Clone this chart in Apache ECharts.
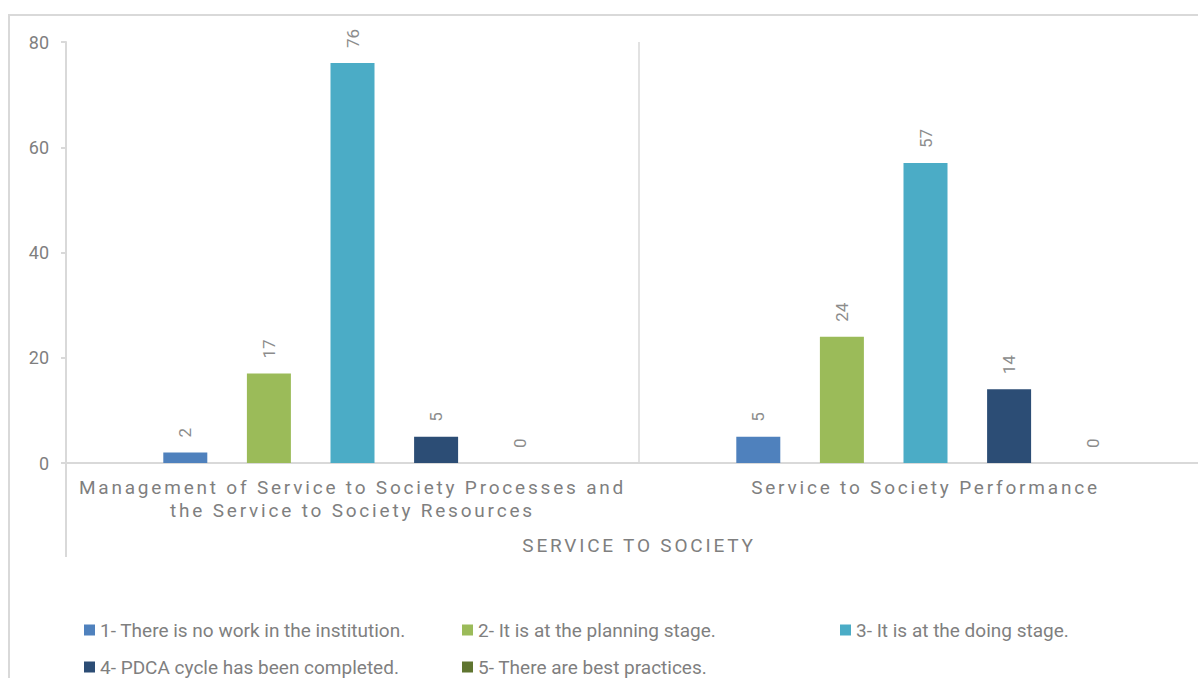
<!DOCTYPE html>
<html>
<head>
<meta charset="utf-8">
<script src="https://cdn.jsdelivr.net/npm/echarts@6/dist/echarts.min.js"></script>
<style>
  html, body { margin: 0; padding: 0; background: #fff; overflow: hidden; width: 1198px; height: 678px; }
  #frame { position: absolute; left: 8px; top: 14px; width: 1200px; height: 680px;
           border-top: 2px solid #d9d9d9; border-left: 2px solid #d9d9d9; }
  /* the drawing surface is wider than the page: the plot runs past its right edge */
  #chart { position: absolute; left: 0; top: 0; width: 1240px; height: 678px; }
</style>
</head>
<body>
<div id="frame"></div>
<div id="chart"></div>
<script>
// Categories along the x axis and the group they belong to
const categories = [
  'Management of Service to Society Processes and\nthe Service to Society Resources',
  'Service to Society Performance'
];
const groupLabels = ['SERVICE TO SOCIETY'];

// Legend entries, one per maturity level
const seriesNames = [
  '1- There is no work in the institution.',
  '2- It is at the planning stage.',
  '3- It is at the doing stage.',
  '4- PDCA cycle has been completed.',
  '5- There are best practices.'
];

// Counts per category for each level
const noWork       = [2, 5];
const planning     = [17, 24];
const doing        = [76, 57];
const pdcaDone     = [5, 14];
const bestPractice = [0, 0];

// Value axis ticks
const yTicks = [0, 20, 40, 60, 80];

const colors = ['#4F81BD', '#9BBB59', '#4BACC6', '#2C4D75', '#5F7530'];
const seriesValues = [noWork, planning, doing, pdcaDone, bestPractice];

const FONT = 'Roboto, "DejaVu Sans", sans-serif';
const GRAY = '#7f7f7f';
const LINE = '#d9d9d9';

const chart = echarts.init(document.getElementById('chart'), null, { renderer: 'svg' });

const series = seriesNames.map((name, i) => ({
  name: name,
  type: 'bar',
  data: seriesValues[i],
  barWidth: 44,
  barGap: '90%',
  itemStyle: { color: colors[i] },
  label: {
    show: true,
    position: 'top',
    distance: 15,
    rotate: 90,
    align: 'left',
    verticalAlign: 'middle',
    color: '#8c8c8c',
    fontFamily: FONT,
    fontSize: 17
  },
  emphasis: { disabled: true }
}));

const legendText = { color: GRAY, fontFamily: FONT, fontSize: 19, lineHeight: 22, width: 320 };
const legendBase = {
  left: 84, padding: 0,
  itemWidth: 11, itemHeight: 11, itemGap: 42,
  icon: 'rect',
  textStyle: legendText,
  selectedMode: false
};

chart.setOption({
  animation: false,
  textStyle: { fontFamily: FONT },
  grid: { left: 66, right: 28, top: 42, bottom: 215, containLabel: false, outerBoundsMode: 'none' },
  legend: [
    Object.assign({ data: seriesNames.slice(0, 3), top: 619 }, legendBase),
    Object.assign({ data: seriesNames.slice(3), top: 656 }, legendBase)
  ],
  xAxis: [
    {
      type: 'category',
      data: categories,
      position: 'bottom',
      offset: 0,
      axisLine: { lineStyle: { color: LINE, width: 2 } },
      axisTick: { show: false },
      splitLine: { show: true, lineStyle: { color: LINE, width: 1.5 } },
      axisLabel: {
        color: GRAY, fontFamily: FONT, fontSize: 19, lineHeight: 23,
        margin: 13, interval: 0
      }
    },
    {
      type: 'category',
      data: groupLabels,
      position: 'bottom',
      offset: 0,
      axisLine: { show: false },
      axisTick: { show: true, length: 94, lineStyle: { color: LINE, width: 2 } },
      axisLabel: {
        color: GRAY, fontFamily: FONT, fontSize: 19, margin: 73, interval: 0
      }
    }
  ],
  yAxis: {
    type: 'value',
    min: yTicks[0],
    max: yTicks[yTicks.length - 1],
    interval: yTicks[1] - yTicks[0],
    axisLine: { show: true, lineStyle: { color: LINE, width: 2 } },
    axisTick: { show: true, length: 5, lineStyle: { color: LINE, width: 2 } },
    splitLine: { show: false },
    axisLabel: { color: GRAY, fontFamily: FONT, fontSize: 18, margin: 17 }
  },
  series: series
});

// Widen the tracking of the category and group labels
const spaced = new Set();
categories.forEach(c => c.split('\n').forEach(l => spaced.add(l)));
groupLabels.forEach(l => spaced.add(l));
function applyTracking() {
  document.querySelectorAll('#chart svg text').forEach(t => {
    if (spaced.has(t.textContent.trim())) {
      t.setAttribute('letter-spacing', '2.8px');
    }
  });
}
chart.on('finished', applyTracking);
setTimeout(applyTracking, 50);
setTimeout(applyTracking, 300);
</script>
</body>
</html>
